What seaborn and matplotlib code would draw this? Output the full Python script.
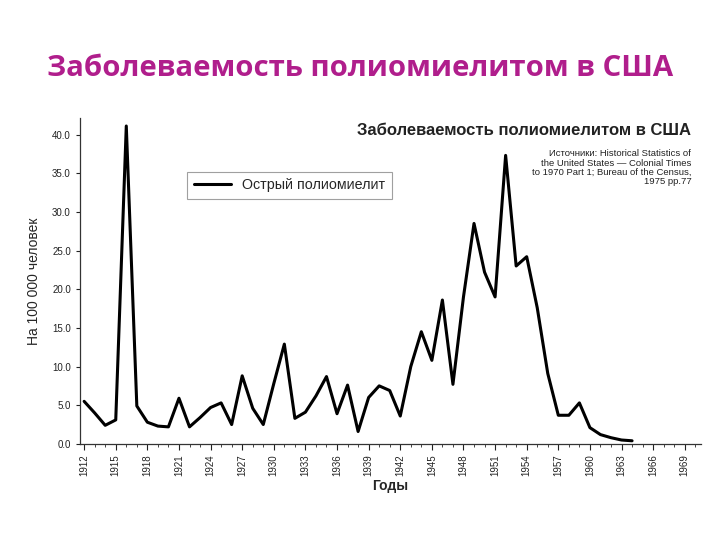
import numpy as np
import pandas as pd
import matplotlib
matplotlib.use("Agg")
import matplotlib.pyplot as plt
import seaborn as sns
from matplotlib.ticker import MultipleLocator, FormatStrFormatter

years = list(range(1912, 1965))
rate = [5.5, 4.0, 2.4, 3.1, 41.1, 4.9, 2.8, 2.3, 2.2, 5.9,
        2.2, 3.4, 4.7, 5.3, 2.5, 8.8, 4.6, 2.5, 7.8, 12.9,
        3.3, 4.1, 6.2, 8.7, 3.9, 7.6, 1.6, 6.0, 7.5, 6.9,
        3.6, 10.0, 14.5, 10.8, 18.6, 7.7, 19.0, 28.5, 22.2, 19.0,
        37.3, 23.0, 24.2, 17.6, 9.1, 3.7, 3.7, 5.3, 2.1, 1.2,
        0.8, 0.5, 0.4]
df = pd.DataFrame({"year": years, "rate": rate})

sns.set_style("white")
plt.rcParams["font.family"] = ["Liberation Sans", "DejaVu Sans"]

fig = plt.figure(figsize=(7.2, 5.4), dpi=100)
ax = fig.add_axes([0.111, 0.178, 0.862, 0.603])

sns.lineplot(data=df, x="year", y="rate", color="black", linewidth=2.2,
             label="Острый полиомиелит", ax=ax)

ax.set_xlim(1911.6, 1970.5)
ax.set_ylim(0, 42.1)
ax.xaxis.set_minor_locator(MultipleLocator(1))
ax.yaxis.set_major_locator(MultipleLocator(5))
ax.yaxis.set_major_formatter(FormatStrFormatter("%.1f"))
ax.set_xticks(list(range(1912, 1970, 3)))
ax.tick_params(axis="x", which="major", direction="out", length=4, width=0.8,
               labelsize=7, labelrotation=90, colors="#222222", bottom=True)
ax.tick_params(axis="x", which="minor", direction="out", length=2.5, width=0.6,
               bottom=True)
ax.tick_params(axis="y", direction="out", length=3, width=0.8, labelsize=7,
               colors="#222222", left=True)

for s in ["top", "right"]:
    ax.spines[s].set_visible(False)
for s in ["left", "bottom"]:
    ax.spines[s].set_color("#333333")
    ax.spines[s].set_linewidth(0.9)

ax.set_xlabel("Годы", fontsize=10, fontweight="bold", labelpad=2)
ax.set_ylabel("На 100 000 человек", fontsize=10, labelpad=8)

leg = ax.legend(loc="upper left", bbox_to_anchor=(0.173, 0.836), fontsize=10.3,
                frameon=True, fancybox=False, edgecolor="#888888",
                handlelength=2.6, handletextpad=0.8, borderpad=0.45,
                borderaxespad=0)
leg.get_frame().set_linewidth(0.8)

ax.text(0.985, 0.985, "Заболеваемость полиомиелитом в США",
        transform=ax.transAxes, ha="right", va="top", fontsize=12,
        fontweight="bold", color="#222222")
ax.text(0.985, 0.905, "Источники: Historical Statistics of\n"
        "the United States — Colonial Times\n"
        "to 1970 Part 1; Bureau of the Census,\n"
        "1975 pp.77",
        transform=ax.transAxes, ha="right", va="top", fontsize=6.8,
        linespacing=1.05, color="#222222")

fig.text(0.5, 0.873, "Заболеваемость полиомиелитом в США",
         ha="center", va="center", fontsize=21.2, fontweight="bold",
         color="#B01E8C", family=["Open Sans", "DejaVu Sans"])

fig.savefig("out.png", dpi=100)
